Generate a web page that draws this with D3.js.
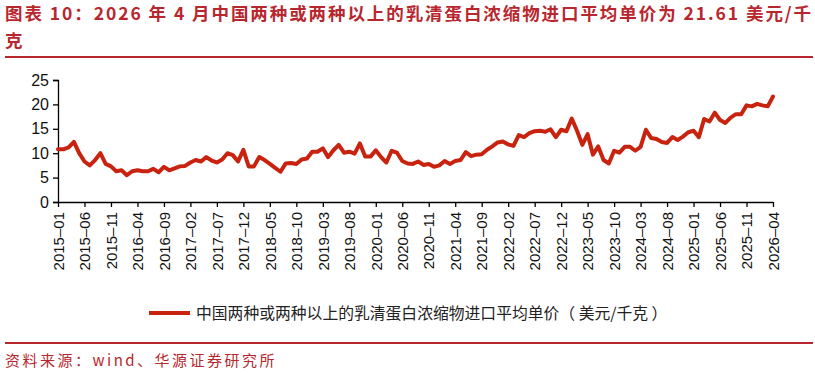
<!DOCTYPE html>
<html>
<head>
<meta charset="utf-8">
<script src="https://cdn.jsdelivr.net/npm/d3@7/dist/d3.min.js"></script>
<style>
  body { margin: 0; background: #fff; }
  svg { display: block; }
</style>
</head>
<body>
<div id="chart"></div>
<script>
// 月度数据 2015-01 ~ 2026-04
var tickLabels = ["2015–01","2015–06","2015–11","2016–04","2016–09","2017–02","2017–07",
  "2017–12","2018–05","2018–10","2019–03","2019–08","2020–01","2020–06","2020–11",
  "2021–04","2021–09","2022–02","2022–07","2022–12","2023–05","2023–10","2024–03",
  "2024–08","2025–01","2025–06","2025–11","2026–04"];
var prices = [
  10.8,10.8,11.2,12.3,10.0,8.3,7.5,8.6,10.0,7.8,7.3,6.3,
  6.5,5.5,6.3,6.5,6.3,6.3,6.8,6.1,7.2,6.5,6.9,7.3,
  7.4,8.1,8.6,8.3,9.2,8.5,8.1,8.7,10.0,9.6,8.3,10.7,
  7.3,7.3,9.2,8.6,7.8,7.0,6.2,7.9,8.0,7.8,8.7,8.9,
  10.3,10.3,11.0,9.2,10.6,11.7,10.1,10.3,9.9,12.0,9.3,9.3,
  10.6,9.2,8.1,10.5,10.1,8.4,7.9,7.8,8.3,7.6,7.8,7.2,
  7.5,8.4,7.8,8.4,8.6,10.2,9.4,9.7,9.8,10.7,11.4,12.2,
  12.4,11.8,11.5,13.7,13.3,14.1,14.5,14.6,14.4,14.9,13.3,14.8,
  14.5,17.1,14.6,11.7,13.9,9.7,11.4,8.6,7.9,10.5,10.1,11.3,
  11.3,10.5,11.3,14.8,13.1,12.9,12.3,12.1,13.3,12.7,13.4,14.3,
  14.6,13.3,17.0,16.5,18.3,16.8,16.2,17.3,18.0,18.0,19.8,19.6,
  20.1,19.8,19.6,21.61
];
var yTicks = [0, 5, 10, 15, 20, 25];
var seriesName = "中国两种或两种以上的乳清蛋白浓缩物进口平均单价（ 美元/千克 ）";
var titleLine1 = "图表 10：2026 年 4 月中国两种或两种以上的乳清蛋白浓缩物进口平均单价为 21.61 美元/千";
var titleLine2 = "克";
var sourceText = "资料来源：wind、华源证券研究所";

var W = 815, H = 376;
var red = "#b8262e", lineRed = "#c8230f";
var cjk = "'Noto Sans CJK SC', 'Noto Sans', sans-serif";

var svg = d3.select("#chart").append("svg")
    .attr("width", W)
    .attr("height", H);

// 标题
svg.append("text")
    .attr("x", 5).attr("y", 20)
    .attr("font-family", cjk).attr("font-weight", "bold")
    .attr("font-size", "17.5px").attr("fill", red)
    .attr("textLength", 806).attr("lengthAdjust", "spacing")
    .text(titleLine1);
svg.append("text")
    .attr("x", 5).attr("y", 47)
    .attr("font-family", cjk).attr("font-weight", "bold")
    .attr("font-size", "17.5px").attr("fill", red)
    .text(titleLine2);
svg.append("rect")
    .attr("x", 5).attr("y", 56).attr("width", 808).attr("height", 2)
    .attr("fill", red);

// 比例尺
var x = d3.scaleLinear().domain([0, prices.length - 1]).range([58, 773]);
var y = d3.scaleLinear().domain([0, 25]).range([202, 80]);

var axisFont = "'Liberation Sans', Arial, sans-serif";

// y 轴
var gy = svg.append("g")
    .attr("transform", "translate(58,0)")
    .call(d3.axisLeft(y).tickValues(yTicks).tickSize(5).tickPadding(4));
gy.select(".domain").attr("stroke", "#000").attr("stroke-width", 1.3);
gy.selectAll(".tick line").attr("stroke", "#000").attr("stroke-width", 1.3);
gy.selectAll(".tick text")
    .attr("font-family", axisFont).attr("font-size", "16px").attr("fill", "#111");

// x 轴
var tickIdx = tickLabels.map(function (d, i) { return i * 5; });
var gx = svg.append("g")
    .attr("transform", "translate(0,202)")
    .call(d3.axisBottom(x).tickValues(tickIdx).tickSize(5).tickSizeOuter(0)
        .tickFormat(function (d, i) { return tickLabels[i]; }));
gx.select(".domain").attr("stroke", "#000").attr("stroke-width", 1.3);
gx.selectAll(".tick line").attr("stroke", "#000").attr("stroke-width", 1.3);
gx.selectAll(".tick text")
    .attr("font-family", axisFont).attr("font-size", "15px").attr("fill", "#111")
    .attr("transform", "rotate(-90)")
    .attr("text-anchor", "end")
    .attr("x", -10).attr("y", 0).attr("dy", "0.35em");

// 折线
var line = d3.line()
    .x(function (d, i) { return x(i); })
    .y(function (d) { return y(d); });
svg.append("path")
    .datum(prices)
    .attr("d", line)
    .attr("fill", "none")
    .attr("stroke", lineRed)
    .attr("stroke-width", 4)
    .attr("stroke-linejoin", "round")
    .attr("stroke-linecap", "round");

// 图例
svg.append("line")
    .attr("x1", 149).attr("x2", 190).attr("y1", 313).attr("y2", 313)
    .attr("stroke", lineRed).attr("stroke-width", 4);
svg.append("text")
    .attr("x", 196).attr("y", 319)
    .attr("font-family", cjk).attr("font-size", "15.8px").attr("fill", "#222")
    .text(seriesName);

// 底部
svg.append("rect")
    .attr("x", 5).attr("y", 342).attr("width", 808).attr("height", 2)
    .attr("fill", red);
svg.append("text")
    .attr("x", 5).attr("y", 366)
    .attr("font-family", cjk).attr("font-size", "15px").attr("fill", red)
    .attr("letter-spacing", "2.5px")
    .text(sourceText);
</script>
</body>
</html>
